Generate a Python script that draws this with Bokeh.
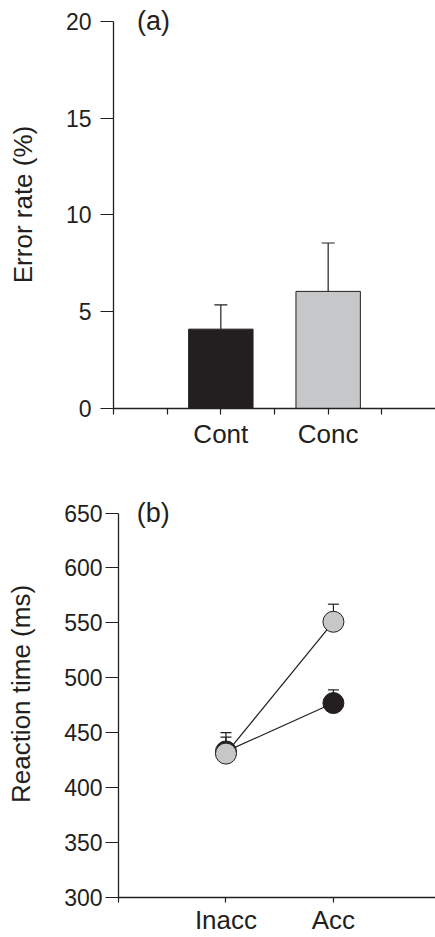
from bokeh.plotting import figure
from bokeh.models import (FixedTicker, Whisker, TeeHead, ColumnDataSource,
                          Label, Range1d)
from bokeh.embed import file_html
from bokeh.resources import INLINE

# ---------------- data ----------------
# Panel (a): error rate
err_categories = ["Cont", "Conc"]
err_positions = [2, 4]
err_means = [4.1, 6.05]
err_sems = [1.25, 2.5]
err_colors = ["#231f20", "#c6c7c9"]
err_xticks = [0, 1, 2, 3, 4, 5]
err_yticks = [0, 5, 10, 15, 20]

# Panel (b): reaction time
rt_conditions = ["Inacc", "Acc"]
rt_positions = [1, 2]
rt_cont_means = [433, 477]
rt_cont_sems = [13, 12]
rt_conc_means = [431, 551]
rt_conc_sems = [19, 16]
rt_xticks = [0, 1, 2]
rt_yticks = [300, 350, 400, 450, 500, 550, 600, 650]

INK = "#231f20"
GRAY = "#c6c7c9"
FONT = "Liberation Sans"


def style_axes(p, ytick_standoff, ylabel_standoff, xtick_out, xlabel_standoff):
    p.xgrid.visible = False
    p.ygrid.visible = False
    p.outline_line_color = None
    for ax in (p.xaxis[0], p.yaxis[0]):
        ax.axis_line_color = INK
        ax.axis_line_width = 1.3
        ax.major_tick_line_color = INK
        ax.major_tick_line_width = 1.2
        ax.major_tick_in = 0
        ax.minor_tick_line_color = None
        ax.major_label_text_color = INK
        ax.major_label_text_font = FONT
        ax.axis_label_text_color = INK
        ax.axis_label_text_font = FONT
        ax.axis_label_text_font_style = "normal"
    p.yaxis[0].major_tick_out = 13
    p.yaxis[0].major_label_text_font_size = "23px"
    p.yaxis[0].major_label_standoff = ytick_standoff
    p.yaxis[0].axis_label_text_font_size = "26px"
    p.yaxis[0].axis_label_standoff = ylabel_standoff
    p.xaxis[0].major_tick_out = xtick_out
    p.xaxis[0].major_label_text_font_size = "26px"
    p.xaxis[0].major_label_standoff = xlabel_standoff


# ---------------- panel (a) ----------------
p1 = figure(width=435, height=470, x_range=Range1d(0, 6), y_range=Range1d(0, 21.08),
            output_backend="svg", toolbar_location=None,
            min_border_left=113, min_border_right=0, min_border_top=0,
            min_border_bottom=62, background_fill_color="white")
style_axes(p1, 9, 25, 6, 4)
p1.yaxis[0].bounds = (err_yticks[0], err_yticks[-1])
p1.yaxis[0].axis_label = "Error rate (%)"
p1.yaxis[0].ticker = FixedTicker(ticks=err_yticks)
p1.xaxis[0].ticker = FixedTicker(ticks=err_xticks)
overrides = {t: "" for t in err_xticks}
for pos, cat in zip(err_positions, err_categories):
    overrides[pos] = cat
p1.xaxis[0].major_label_overrides = overrides

src_a = ColumnDataSource(dict(
    x=err_positions, top=err_means,
    upper=[m + s for m, s in zip(err_means, err_sems)],
    color=err_colors))
p1.add_layout(Whisker(base="x", lower="top", upper="upper", source=src_a,
                      dimension="height", line_color=INK, line_width=1.2,
                      upper_head=TeeHead(size=13, line_color=INK, line_width=1.2),
                      lower_head=None, level="underlay"))
p1.vbar(x="x", top="top", width=1.2, source=src_a, fill_color="color",
        line_color=INK, line_width=1)
p1.add_layout(Label(x=0.44, y=20, text="(a)", text_font=FONT, text_font_size="27px",
                    text_color=INK, text_baseline="middle"))

# ---------------- panel (b) ----------------
p2 = figure(width=435, height=467, x_range=Range1d(0, 2.95), y_range=Range1d(300, 670.5),
            output_backend="svg", toolbar_location=None,
            min_border_left=118, min_border_right=0, min_border_top=20,
            min_border_bottom=38, background_fill_color="white")
style_axes(p2, 3, 25, 5, 2)
p2.yaxis[0].bounds = (rt_yticks[0], rt_yticks[-1])
p2.yaxis[0].axis_label = "Reaction time (ms)"
p2.yaxis[0].ticker = FixedTicker(ticks=rt_yticks)
p2.xaxis[0].ticker = FixedTicker(ticks=rt_xticks)
overrides_b = {t: "" for t in rt_xticks}
for pos, cond in zip(rt_positions, rt_conditions):
    overrides_b[pos] = cond
p2.xaxis[0].major_label_overrides = overrides_b

src_cont = ColumnDataSource(dict(
    x=rt_positions, y=rt_cont_means,
    upper=[m + s for m, s in zip(rt_cont_means, rt_cont_sems)]))
src_conc = ColumnDataSource(dict(
    x=rt_positions, y=rt_conc_means,
    upper=[m + s for m, s in zip(rt_conc_means, rt_conc_sems)]))

for src in (src_cont, src_conc):
    p2.add_layout(Whisker(base="x", lower="y", upper="upper", source=src,
                          dimension="height", line_color=INK, line_width=1.2,
                          upper_head=TeeHead(size=11, line_color=INK, line_width=1.2),
                          lower_head=None, level="underlay"))

p2.line("x", "y", source=src_cont, line_color=INK, line_width=1.2)
p2.line("x", "y", source=src_conc, line_color=INK, line_width=1.2)
p2.scatter("x", "y", source=src_cont, size=21, fill_color=INK,
           line_color=INK, line_width=1)
p2.scatter("x", "y", source=src_conc, size=21, fill_color=GRAY,
           line_color=INK, line_width=1)
p2.add_layout(Label(x=0.17, y=650, text="(b)", text_font=FONT, text_font_size="27px",
                    text_color=INK, text_baseline="middle"))

# two independent roots stacked on the page (no frame alignment between panels)
open("out.html", "w").write(file_html([p1, p2], INLINE))
